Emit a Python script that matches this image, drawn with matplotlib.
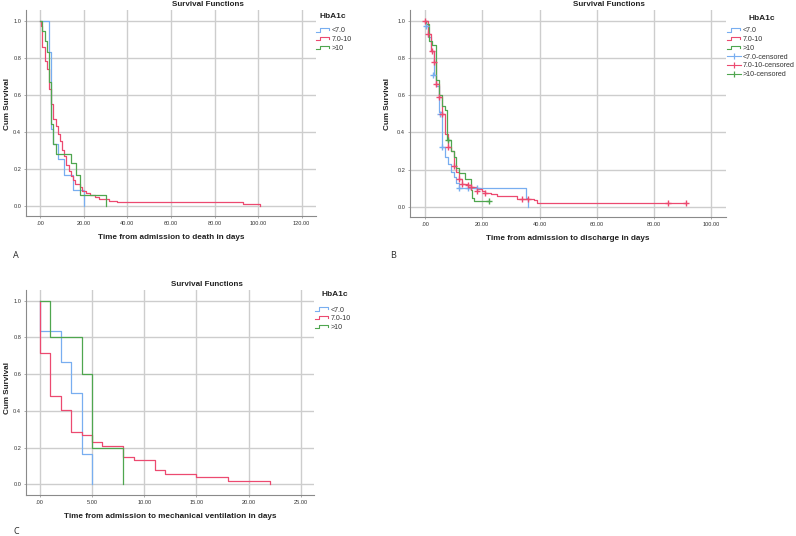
import numpy as np
import matplotlib
matplotlib.use("Agg")
import matplotlib.pyplot as plt
from matplotlib.lines import Line2D
from matplotlib.legend_handler import HandlerBase
from matplotlib.ticker import FuncFormatter

plt.rcParams["font.family"] = ["Liberation Sans", "DejaVu Sans"]

W, H = 796, 536
DPI = 100

# ---------- datos ----------
GRUPOS = ["<7.0", "7.0-10", ">10"]
COLORES = ["#78aef0", "#ec4a70", "#4fa64f"]

# A: tiempo hasta la muerte
a_lt7_t = [0, 4, 5, 6, 8, 11, 15, 20]
a_lt7_s = [1.0, 0.833, 0.417, 0.333, 0.25, 0.167, 0.083, 0.0]
a_mid_t = [0, 0.3, 1, 2, 3, 4, 5, 6, 7, 8, 9, 10, 11, 12, 13, 14, 15, 16, 18,
           19, 21, 23, 25, 27, 31.5, 35, 93, 101]
a_mid_s = [1.0, 0.97, 0.86, 0.78, 0.74, 0.63, 0.55, 0.47, 0.43, 0.39, 0.35,
           0.30, 0.27, 0.22, 0.19, 0.16, 0.14, 0.12, 0.10, 0.08, 0.07, 0.06,
           0.047, 0.036, 0.027, 0.018, 0.009, 0.0]
a_gt10_t = [0, 1, 2, 3, 4, 5, 6, 7, 14, 16.4, 18, 30]
a_gt10_s = [1.0, 0.944, 0.889, 0.833, 0.667, 0.444, 0.333, 0.278, 0.229,
            0.167, 0.056, 0.0]

# B: tiempo hasta el alta (con censurados)
b_lt7_t = [0, 0.5, 1, 2, 3, 4, 5, 6, 7, 8, 9, 10, 11, 12, 35.3, 36]
b_lt7_s = [1.0, 0.97, 0.91, 0.84, 0.71, 0.65, 0.51, 0.32, 0.27, 0.23, 0.19,
           0.16, 0.13, 0.10, 0.047, 0.0]
b_mid_t = [0, 1, 2, 3, 4, 5, 6, 7, 8, 9, 10, 11, 12, 13, 15, 16, 18, 20, 21,
           23, 25, 32, 38, 39, 91]
b_mid_s = [1.0, 0.93, 0.84, 0.78, 0.66, 0.59, 0.50, 0.39, 0.32, 0.30, 0.22,
           0.19, 0.15, 0.125, 0.12, 0.105, 0.095, 0.088, 0.075, 0.068, 0.06,
           0.045, 0.035, 0.023, 0.023]
b_gt10_t = [0, 0.5, 1.5, 2.5, 3.7, 5, 6, 7, 7.7, 9, 10, 11, 12, 14, 16, 16.5,
            17, 22]
b_gt10_s = [1.0, 0.98, 0.89, 0.87, 0.68, 0.60, 0.54, 0.52, 0.36, 0.30, 0.27,
            0.21, 0.18, 0.15, 0.09, 0.05, 0.034, 0.034]

b_lt7_cens_t = [0.5, 2.8, 5.1, 5.9, 12, 15, 18]
b_lt7_cens_s = [0.97, 0.71, 0.50, 0.32, 0.10, 0.10, 0.10]
b_mid_cens_t = [0, 1.2, 2.3, 3.1, 3.8, 5, 5.9, 8.1, 10, 12, 13, 15, 16, 18,
                21, 34, 36, 85, 91]
b_mid_cens_s = [1.0, 0.93, 0.84, 0.78, 0.66, 0.59, 0.50, 0.32, 0.22, 0.15,
                0.125, 0.12, 0.105, 0.088, 0.075, 0.045, 0.045, 0.023, 0.023]
b_gt10_cens_t = [8.2, 22.2]
b_gt10_cens_s = [0.36, 0.034]

# C: tiempo hasta ventilacion mecanica
c_lt7_t = [0, 0, 2, 3, 4, 5]
c_lt7_s = [1.0, 0.833, 0.667, 0.5, 0.167, 0.0]
c_mid_t = [0, 0, 1, 2, 3, 4, 5, 6, 8, 9, 11, 12, 15, 18, 22]
c_mid_s = [1.0, 0.714, 0.48, 0.405, 0.286, 0.27, 0.23, 0.21, 0.15, 0.135,
           0.077, 0.058, 0.038, 0.019, 0.0]
c_gt10_t = [0, 1, 4, 5, 8]
c_gt10_s = [1.0, 0.8, 0.6, 0.2, 0.0]

Y_TICKS = [0.0, 0.2, 0.4, 0.6, 0.8, 1.0]
A_XTICKS = [0, 20, 40, 60, 80, 100, 120]
B_XTICKS = [0, 20, 40, 60, 80, 100]
C_XTICKS = [0, 5, 10, 15, 20, 25]


class StepHandler(HandlerBase):
    """Icono de leyenda con forma de escalon (como SPSS)."""
    def create_artists(self, legend, orig_handle, xdescent, ydescent,
                       width, height, fontsize, trans):
        x0, y0 = -xdescent, -ydescent
        xs = [x0, x0 + 0.3 * width, x0 + 0.3 * width, x0 + 0.9 * width, x0 + 0.9 * width]
        ys = [y0 + 0.15 * height, y0 + 0.15 * height, y0 + 0.85 * height,
              y0 + 0.85 * height, y0 + 0.45 * height]
        ln = Line2D(xs, ys, color=orig_handle.get_color(), lw=0.8, transform=trans)
        return [ln]


def fmt_x(v, pos):
    s = f"{v:.2f}"
    return s[1:] if s.startswith("0.") else s


def px_fig(x, y):
    return x / W, 1 - y / H


def add_axes(left, right, top, bottom):
    return fig.add_axes([left / W, 1 - bottom / H, (right - left) / W, (bottom - top) / H])


def style_axes(ax, x0_px, x1_px, xval0, xval1, left_px, right_px, y0_px, y1_px, top_px, bottom_px, xticks):
    # convierte la posicion en pixeles de los valores a limites de eje
    sx = (x1_px - x0_px) / (xval1 - xval0)
    sy = (y0_px - y1_px)
    ax.set_xlim(xval0 - (x0_px - left_px) / sx, xval0 + (right_px - x0_px) / sx)
    ax.set_ylim(-(bottom_px - y0_px) / sy, (y0_px - top_px) / sy)
    ax.set_xticks(xticks)
    ax.set_yticks(Y_TICKS)
    ax.xaxis.set_major_formatter(FuncFormatter(fmt_x))
    ax.yaxis.set_major_formatter(FuncFormatter(lambda v, p: f"{v:.1f}"))
    ax.grid(True, color="#cdcdcd", lw=1.0)
    ax.set_axisbelow(True)
    for s in ["top", "right"]:
        ax.spines[s].set_visible(False)
    for s in ["left", "bottom"]:
        ax.spines[s].set_color("#8a8a8a")
        ax.spines[s].set_linewidth(0.8)
    ax.tick_params(labelsize=4.1, length=1.5, width=0.5, color="#8a8a8a",
                   pad=2, labelcolor="#333333")


fig = plt.figure(figsize=(W / DPI, H / DPI), dpi=DPI)

LBL = dict(fontsize=5.9, fontweight="bold", color="#222222")
TIT = dict(fontsize=5.8, fontweight="bold", color="#222222")

paneles = [
    dict(curvas=[(a_lt7_t, a_lt7_s), (a_mid_t, a_mid_s), (a_gt10_t, a_gt10_s)],
         box=(26, 316, 10, 216), xmap=(40.3, 301.7, 0, 120), ymap=(205.7, 20.7),
         xticks=A_XTICKS, xlabel="Time from admission to death in days",
         title_xy=(207.5, 4.5), xlabel_xy=(171, 237), ylabel_xy=(11.5, 104.5),
         leg_xy=(316, 27.5), legtit_xy=(333, 17), letra=("A", 16, 255), cens=None),
    dict(curvas=[(b_lt7_t, b_lt7_s), (b_mid_t, b_mid_s), (b_gt10_t, b_gt10_s)],
         box=(410, 726, 10, 217), xmap=(425, 711.3, 0, 100), ymap=(207, 20.7),
         xticks=B_XTICKS, xlabel="Time from admission to discharge in days",
         title_xy=(608.7, 4.5), xlabel_xy=(568, 239), ylabel_xy=(391, 104.5),
         leg_xy=(727, 27.5), legtit_xy=(761.5, 19), letra=("B", 393, 255),
         cens=[(b_lt7_cens_t, b_lt7_cens_s), (b_mid_cens_t, b_mid_cens_s),
               (b_gt10_cens_t, b_gt10_cens_s)]),
    dict(curvas=[(c_lt7_t, c_lt7_s), (c_mid_t, c_mid_s), (c_gt10_t, c_gt10_s)],
         box=(26, 314, 290, 495), xmap=(39.7, 301, 0, 25), ymap=(484.3, 300.7),
         xticks=C_XTICKS, xlabel="Time from admission to mechanical ventilation in days",
         title_xy=(207, 284.5), xlabel_xy=(170, 516.5), ylabel_xy=(11.5, 388.5),
         leg_xy=(315, 306.5), legtit_xy=(335, 294), letra=("C", 16, 532), cens=None),
]

for p in paneles:
    l, r, t, b = p["box"]
    ax = add_axes(l, r, t, b)
    x0p, x1p, xv0, xv1 = p["xmap"]
    y0p, y1p = p["ymap"]
    style_axes(ax, x0p, x1p, xv0, xv1, l, r, y0p, y1p, t, b, p["xticks"])

    handles, labels = [], []
    for (tt, ss), col, g in zip(p["curvas"], COLORES, GRUPOS):
        ln, = ax.step(tt, ss, where="post", color=col, lw=0.9, zorder=3)
        handles.append(ln)
        labels.append(g)
    hmap = {h: StepHandler() for h in handles}
    if p["cens"] is not None:
        for (ct, cs), col, g in zip(p["cens"], COLORES, GRUPOS):
            ax.plot(ct, cs, ls="none", marker="+", ms=4.5, mew=1.0, color=col, zorder=4)
            handles.append(Line2D([], [], color=col, lw=0.8, marker="|", ms=4, mew=0.9))
            labels.append(g + "-censored")

    ax.set_xlabel(p["xlabel"], **LBL)
    ax.set_ylabel("Cum Survival", **LBL)
    ax.xaxis.set_label_coords(*px_fig(*p["xlabel_xy"]), transform=fig.transFigure)
    ax.xaxis.label.set_va("center")
    ax.yaxis.set_label_coords(*px_fig(*p["ylabel_xy"]), transform=fig.transFigure)

    fig.text(*px_fig(*p["title_xy"]), "Survival Functions", ha="center", va="center", **TIT)

    leg = ax.legend(handles, labels, handler_map=hmap, loc="upper left",
                    bbox_to_anchor=px_fig(*p["leg_xy"]), bbox_transform=fig.transFigure,
                    frameon=False, fontsize=5.1, handlelength=2.0, handletextpad=0.15,
                    labelspacing=0.24, borderpad=0, borderaxespad=0)
    for txt in leg.get_texts():
        txt.set_color("#333333")
    # titulo de la leyenda centrado sobre la caja (estilo SPSS)
    fig.text(*px_fig(*p["legtit_xy"]), "HbA1c", ha="center", va="center",
             fontsize=6.0, fontweight="bold", color="#222222")

    letra, lx, ly = p["letra"]
    fig.text(*px_fig(lx, ly), letra, ha="center", va="center", fontsize=6.5,
             family=["Noto Sans", "DejaVu Sans"], color="#333333")

fig.savefig("out.png", dpi=DPI)
